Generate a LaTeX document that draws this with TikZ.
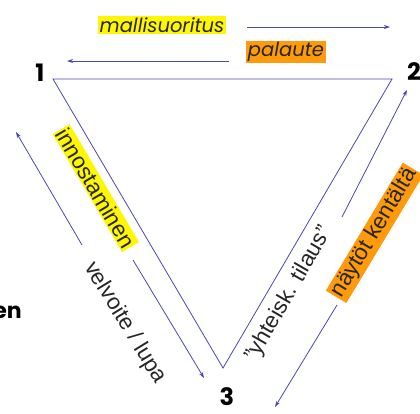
\documentclass[tikz,border=0pt]{standalone}
\usepackage{fontspec}
\setmainfont{Liberation Sans}
\newfontfamily\pop{Poppins}
\usetikzlibrary{arrows.meta}
\definecolor{ln}{HTML}{4A46B8}
\definecolor{hy}{HTML}{FFF700}
\definecolor{ho}{HTML}{FF9A0A}
\tikzset{
  edge/.style={draw=ln, line width=0.8pt},
  arr/.style={draw=ln, line width=0.8pt, -{Stealth[length=6pt,width=4pt]}},
  num/.style={font=\pop\bfseries\fontsize{24}{24}\selectfont, inner sep=0pt},
  toplab/.style={font=\pop\itshape\fontsize{19.5}{21}\selectfont, inner sep=1.5pt, text=black!85},
  rotlab/.style={font=\fontsize{22.5}{24}\selectfont, inner sep=1.5pt, text=black!85},
}
\begin{document}
\begin{tikzpicture}[x=1pt,y=-1pt]
\useasboundingbox (0,0) rectangle (420,413);
% vertices
\coordinate (v1) at (53,79);
\coordinate (v2) at (392,79);
\coordinate (v3) at (223,368);
\draw[edge] (v1) -- (v2) -- (v3) -- cycle;
% numbers
\node[num] (n1) at (40,73) {1};
\node[num] (n2) at (414,72) {2};
\node[num] (n3) at (227,397) {3};
\node[font=\pop\bfseries\fontsize{22}{22}\selectfont, inner sep=0pt, anchor=east] (en) at (22,312) {en};
% top arrows
\node[toplab, fill=hy] (ms) at (162,25) {mallisuoritus};
\coordinate (ms1) at (247,27);
\coordinate (ms2) at (390,27);
\draw[arr] (ms1) -- (ms2);
\node[toplab, fill=ho] (pa) at (286,52) {palaute};
\coordinate (pa1) at (229,61);
\coordinate (pa2) at (67,61);
\draw[arr] (pa1) -- (pa2);
% left side
\node[rotlab, fill=hy, rotate=-59.5, anchor=west] (inn) at (61,129) {innostaminen};
\coordinate (in1) at (133,260);
\coordinate (in2) at (204,378);
\draw[arr] (in1) -- (in2);
\coordinate (ve1) at (82,245);
\coordinate (ve2) at (16,132);
\draw[arr] (ve1) -- (ve2);
\node[rotlab, rotate=-58.5] (vel) at (125,323) {velvoite / lupa};
% right side
\coordinate (yt1) at (342,217);
\coordinate (yt2) at (407,90);
\draw[arr] (yt1) -- (yt2);
\node[rotlab, rotate=60] (yht) at (289,294) {”yhteisk. tilaus”};
\node[rotlab, fill=ho, rotate=59, anchor=west] (nay) at (336,297) {näytöt kentältä};
\coordinate (na1) at (337,305);
\coordinate (na2) at (275,407);
\draw[arr] (na1) -- (na2);
\end{tikzpicture}
\end{document}
